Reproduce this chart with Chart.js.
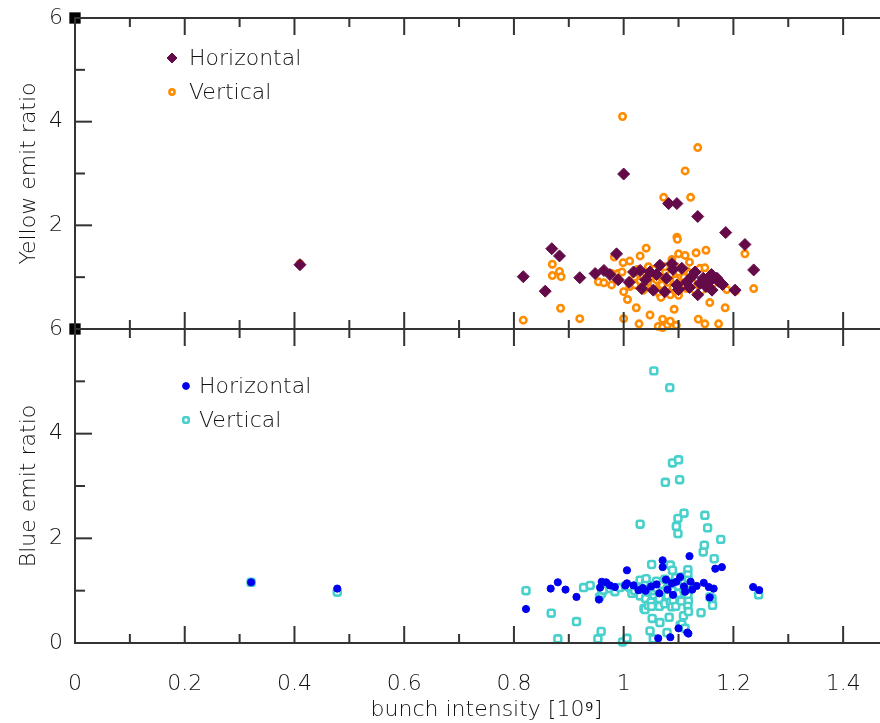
<!DOCTYPE html>
<html>
<head>
<meta charset="utf-8">
<title>Emittance ratio vs bunch intensity</title>
<script src="https://cdn.jsdelivr.net/npm/chart.js@4.4.0/dist/chart.umd.min.js"></script>
<style>
  html, body { margin: 0; padding: 0; background: #fff; width: 880px; height: 723px; overflow: hidden; }
  .panel { position: absolute; left: 0; top: 0; }
</style>
</head>
<body>
<canvas id="bluePanel" class="panel" width="920" height="723"></canvas>
<canvas id="yellowPanel" class="panel" width="920" height="723"></canvas>
<script>
'use strict';

// ── Data: [bunch intensity (1e9), emittance ratio] ──────────────────────
const yellowHorizontal = [
  [0.41, 1.24], [0.817, 1.01], [0.857, 0.73], [0.869, 1.55], [0.883, 1.41],
  [0.92, 0.99], [0.948, 1.07], [0.964, 1.13], [0.975, 1.05], [0.987, 1.45],
  [0.99, 0.95], [1.0, 2.99], [1.01, 0.9], [1.018, 1.10], [1.03, 1.13],
  [1.033, 0.78], [1.04, 0.95], [1.048, 1.10], [1.054, 0.75], [1.06, 1.05],
  [1.066, 1.23], [1.075, 0.72], [1.078, 0.98], [1.082, 2.42], [1.088, 1.26],
  [1.09, 1.15], [1.097, 2.42], [1.097, 0.85], [1.10, 0.76], [1.106, 1.17],
  [1.115, 0.91], [1.12, 0.80], [1.125, 1.02], [1.13, 1.10], [1.135, 2.17],
  [1.135, 0.66], [1.139, 0.88], [1.145, 0.98], [1.15, 0.82], [1.155, 0.90],
  [1.16, 1.05], [1.161, 0.75], [1.17, 0.98], [1.173, 0.92], [1.18, 0.86],
  [1.186, 1.86], [1.203, 0.75], [1.221, 1.63], [1.237, 1.14]
];

const yellowVertical = [
  [0.41, 1.26], [0.817, 0.17], [0.87, 1.25], [0.870, 1.03], [0.883, 1.11],
  [0.885, 0.40], [0.886, 1.01], [0.92, 0.20], [0.954, 0.91], [0.964, 0.89],
  [0.978, 0.85], [0.978, 1.07], [0.983, 1.39], [0.99, 1.07], [0.997, 1.10],
  [0.998, 4.10], [0.999, 1.28], [1.0, 0.20], [1.0, 0.72], [1.007, 0.57],
  [1.011, 1.31], [1.011, 0.82], [1.02, 1.0], [1.021, 0.85], [1.023, 0.41],
  [1.025, 1.15], [1.028, 0.10], [1.03, 1.41], [1.03, 0.93], [1.035, 1.0],
  [1.036, 0.75], [1.04, 1.1], [1.04, 0.8], [1.041, 1.56], [1.045, 0.9],
  [1.045, 1.2], [1.048, 0.27], [1.05, 1.05], [1.05, 0.8], [1.055, 1.15],
  [1.055, 0.88], [1.06, 0.95], [1.06, 0.75], [1.063, 0.05], [1.065, 1.1],
  [1.065, 0.68], [1.068, 0.61], [1.07, 0.85], [1.07, 1.0], [1.071, 0.19],
  [1.071, 0.03], [1.073, 2.54], [1.075, 1.2], [1.075, 0.98], [1.08, 0.9],
  [1.08, 0.7], [1.08, 0.08], [1.085, 1.05], [1.085, 0.66], [1.085, 0.15],
  [1.088, 1.34], [1.09, 0.8], [1.09, 1.15], [1.092, 0.38], [1.095, 0.95],
  [1.095, 1.2], [1.096, 0.07], [1.097, 1.77], [1.098, 1.73], [1.10, 1.45],
  [1.10, 1.1], [1.10, 0.72], [1.10, 0.65], [1.105, 0.88], [1.11, 1.0],
  [1.112, 3.05], [1.112, 1.42], [1.115, 0.78], [1.115, 1.12], [1.12, 1.29],
  [1.12, 1.08], [1.122, 2.54], [1.125, 0.9], [1.13, 0.75], [1.132, 1.47],
  [1.135, 3.50], [1.136, 0.19], [1.139, 1.17], [1.142, 0.75], [1.148, 1.18],
  [1.148, 0.10], [1.15, 1.52], [1.156, 0.78], [1.157, 0.51], [1.163, 0.88],
  [1.173, 0.10], [1.185, 0.41], [1.188, 0.76], [1.204, 0.73], [1.221, 1.45],
  [1.237, 0.78]
];

const blueHorizontal = [
  [0.321, 1.16], [0.478, 1.04], [0.822, 0.65], [0.867, 1.04], [0.880, 1.16],
  [0.894, 1.02], [0.914, 0.88], [0.955, 0.83], [0.957, 1.06], [0.960, 1.17],
  [0.968, 1.16], [0.975, 1.10], [0.984, 1.07], [1.003, 1.10], [1.006, 1.39],
  [1.006, 1.14], [1.018, 1.10], [1.027, 1.01], [1.035, 1.05], [1.04, 1.0],
  [1.05, 1.08], [1.06, 1.12], [1.063, 0.09], [1.065, 0.95], [1.071, 1.58],
  [1.071, 1.45], [1.077, 1.21], [1.08, 1.02], [1.085, 0.11], [1.088, 1.14],
  [1.09, 0.92], [1.096, 1.17], [1.100, 0.28], [1.103, 1.26], [1.11, 1.08],
  [1.112, 0.98], [1.116, 0.20], [1.118, 0.18], [1.120, 1.66], [1.122, 1.17],
  [1.125, 1.02], [1.133, 1.09], [1.146, 1.15], [1.155, 1.07], [1.157, 0.87],
  [1.164, 1.04], [1.167, 1.42], [1.179, 1.45], [1.236, 1.07], [1.247, 1.01]
];

const blueVertical = [
  [0.321, 1.16], [0.478, 0.97], [0.822, 1.00], [0.868, 0.57], [0.880, 0.08],
  [0.914, 0.41], [0.927, 1.06], [0.939, 1.10], [0.953, 0.08], [0.956, 0.88],
  [0.959, 0.22], [0.960, 0.95], [0.963, 1.01], [0.975, 1.04], [0.984, 0.98],
  [0.993, 1.06], [0.998, 0.02], [1.003, 1.09], [1.006, 0.09], [1.012, 1.05],
  [1.015, 0.95], [1.02, 1.0], [1.025, 1.1], [1.03, 0.9], [1.03, 1.2],
  [1.030, 2.27], [1.035, 1.05], [1.037, 0.66], [1.039, 0.64], [1.04, 1.15],
  [1.04, 0.85], [1.041, 1.23], [1.045, 0.98], [1.045, 0.72], [1.048, 0.23],
  [1.05, 1.1], [1.05, 0.78], [1.051, 1.50], [1.051, 0.70], [1.052, 0.47],
  [1.054, 0.08], [1.055, 5.20], [1.055, 0.92], [1.055, 1.0], [1.06, 1.05],
  [1.06, 1.18], [1.065, 0.85], [1.065, 0.7], [1.066, 0.39], [1.07, 0.98],
  [1.07, 1.12], [1.075, 0.75], [1.075, 1.22], [1.076, 3.07], [1.079, 0.20],
  [1.08, 0.9], [1.08, 1.05], [1.083, 0.49], [1.084, 4.88], [1.085, 1.15],
  [1.085, 0.78], [1.085, 1.49], [1.088, 0.69], [1.089, 3.44], [1.089, 1.39],
  [1.09, 0.82], [1.09, 1.0], [1.095, 0.7], [1.095, 1.25], [1.096, 2.23],
  [1.099, 2.38], [1.099, 2.09], [1.1, 0.92], [1.1, 1.08], [1.1, 0.95],
  [1.100, 3.50], [1.102, 3.12], [1.103, 0.34], [1.105, 0.8], [1.106, 1.26],
  [1.106, 0.36], [1.109, 0.52], [1.11, 1.0], [1.11, 1.15], [1.110, 2.48],
  [1.112, 0.28], [1.117, 1.40], [1.117, 1.30], [1.118, 1.20], [1.117, 1.10],
  [1.118, 1.00], [1.117, 0.90], [1.118, 0.80], [1.117, 0.70], [1.118, 0.60],
  [1.141, 0.58], [1.145, 1.74], [1.147, 1.87], [1.148, 2.44], [1.153, 2.20],
  [1.157, 0.88], [1.161, 0.85], [1.162, 0.72], [1.165, 1.61], [1.177, 1.98],
  [1.246, 0.92]
];

// corner marker at the top of each panel's ratio axis
const cornerMark = [[0, 6]];

// ── Axes ────────────────────────────────────────────────────────────────
const xMajor = [0, 0.2, 0.4, 0.6, 0.8, 1.0, 1.2, 1.4];
const xMinor = [0.1, 0.3, 0.5, 0.7, 0.9, 1.1, 1.3];
const xLabels = ['0', '0.2', '0.4', '0.6', '0.8', '1', '1.2', '1.4'];
const yMajor = [0, 2, 4, 6];
const yMinor = [1, 3, 5];
const yLabelsTop = ['', '2', '4', '6'];
const yLabelsBottom = ['0', '2', '4', '6'];

const INK = '#111';
const FONT = { family: "'DejaVu Sans', 'Liberation Sans', sans-serif", size: 22, weight: '200' };

const toPts = arr => arr.map(([x, y]) => ({ x, y }));

// Box around the plot plus inward major/minor ticks on all four sides
function drawFrame(chart, opts) {
  const ctx = chart.ctx, a = chart.chartArea;
  const sx = chart.scales.x, sy = chart.scales.y;
  ctx.save();
  ctx.fillStyle = opts.col;
  ctx.fillRect(a.left - 1, a.top - 1, a.right - a.left + 2, 2);
  ctx.fillRect(a.left - 1, a.bottom - 1, a.right - a.left + 2, 2);
  ctx.fillRect(a.left - 1, a.top - 1, 2, a.bottom - a.top + 2);
  ctx.fillRect(a.right - 1, a.top - 1, 2, a.bottom - a.top + 2);
  const xTick = (v, len) => {
    const px = sx.getPixelForValue(v);
    ctx.fillRect(px - 1, a.bottom - len, 2, len);
    ctx.fillRect(px - 1, a.top, 2, len);
  };
  const yTick = (v, len) => {
    const py = sy.getPixelForValue(v);
    ctx.fillRect(a.left, py - 1, len, 2);
    ctx.fillRect(a.right - len, py - 1, len, 2);
  };
  xMajor.forEach(v => xTick(v, 17));
  xMinor.forEach(v => xTick(v, 9));
  yMajor.forEach(v => yTick(v, 17));
  yMinor.forEach(v => yTick(v, 10));
  ctx.restore();
}

// Small in-plot legend: marker + label per dataset
function drawLegend(chart, opts) {
  const ctx = chart.ctx;
  ctx.save();
  ctx.font = `${FONT.weight} ${FONT.size}px ${FONT.family}`;
  ctx.textBaseline = 'middle';
  let row = 0;
  chart.data.datasets.forEach(ds => {
    if (!ds.label) return;
    const y = opts.y + row * opts.dy;
    ctx.save();
    ctx.fillStyle = ds.backgroundColor;
    ctx.strokeStyle = ds.borderColor;
    ctx.lineWidth = ds.borderWidth;
    Chart.helpers.drawPoint(ctx, {
      pointStyle: ds.pointStyle, radius: ds.legendRadius, rotation: 0, borderWidth: ds.borderWidth
    }, opts.x, y);
    ctx.restore();
    ctx.fillStyle = INK;
    ctx.fillText(ds.label, opts.textX, y + 1);
    row++;
  });
  ctx.restore();
}

const panelDecor = {
  id: 'panelDecor',
  afterDraw(chart, args, opts) {
    drawFrame(chart, opts);
    drawLegend(chart, opts);
  }
};

function panelOptions(cfg) {
  return {
    responsive: false,
    animation: false,
    clip: false,
    layout: { padding: cfg.padding },
    plugins: {
      legend: { display: false },
      tooltip: { enabled: false },
      panelDecor: Object.assign({ col: '#333' }, cfg.legend)
    },
    scales: {
      x: {
        type: 'linear', min: 0, max: 1.5,
        display: cfg.showX,
        border: { display: false },
        grid: { display: false },
        afterBuildTicks: s => { s.ticks = xMajor.map(v => ({ value: v })); },
        afterFit: s => {
          s.height = cfg.showX ? 80 : 0;
          s.paddingLeft = 0; s.paddingRight = 0;
        },
        ticks: {
          autoSkip: false, maxRotation: 0, padding: 20,
          color: INK, font: FONT,
          callback: (v, i) => xLabels[i]
        },
        title: {
          display: true, text: 'bunch intensity [10⁹]',
          color: INK, font: FONT, padding: { top: 0, bottom: 0 }
        }
      },
      y: {
        type: 'linear', min: 0, max: 6,
        border: { display: false },
        grid: { display: false },
        afterBuildTicks: s => { s.ticks = yMajor.map(v => ({ value: v })); },
        afterFit: s => {
          s.width = 75;
          s.paddingTop = 0; s.paddingBottom = 0;
        },
        ticks: {
          autoSkip: false, padding: 4,
          color: INK, font: FONT,
          callback: (v, i) => cfg.yLabels[i]
        },
        title: {
          display: true, text: cfg.yTitle,
          color: INK, font: FONT, padding: { top: 16, bottom: 0 }
        }
      }
    }
  };
}

const cornerStyle = {
  label: '', pointStyle: 'rect', radius: 8,
  backgroundColor: '#000', borderColor: '#000', borderWidth: 0
};

new Chart(document.getElementById('bluePanel'), {
  type: 'scatter',
  data: {
    datasets: [
      {
        label: 'Horizontal', data: toPts(blueHorizontal),
        pointStyle: 'circle', radius: 3.6, legendRadius: 3.4,
        backgroundColor: '#0000ee', borderColor: '#0000ee', borderWidth: 1
      },
      {
        label: 'Vertical', data: toPts(blueVertical),
        pointStyle: 'rectRounded', radius: 4, legendRadius: 3.2,
        backgroundColor: '#ffffff', borderColor: '#48d1cc', borderWidth: 2.6
      },
      Object.assign({ data: toPts(cornerMark) }, cornerStyle)
    ]
  },
  options: panelOptions({
    padding: { top: 329, right: 22, bottom: 0, left: 0 },
    showX: true,
    yLabels: yLabelsBottom,
    yTitle: 'Blue emit ratio',
    legend: { x: 186, y: 386, dy: 34, textX: 199 }
  }),
  plugins: [panelDecor]
});

new Chart(document.getElementById('yellowPanel'), {
  type: 'scatter',
  data: {
    datasets: [
      {
        label: 'Horizontal', data: toPts(yellowHorizontal),
        pointStyle: 'rectRot', radius: 6, legendRadius: 5,
        backgroundColor: '#650a48', borderColor: '#650a48', borderWidth: 1
      },
      {
        label: 'Vertical', data: toPts(yellowVertical),
        pointStyle: 'circle', radius: 3.2, legendRadius: 2.6,
        backgroundColor: '#ffffff', borderColor: '#ff8c00', borderWidth: 2.6
      },
      Object.assign({ data: toPts(cornerMark) }, cornerStyle)
    ]
  },
  options: panelOptions({
    padding: { top: 18, right: 22, bottom: 394, left: 0 },
    showX: false,
    yLabels: yLabelsTop,
    yTitle: 'Yellow emit ratio',
    legend: { x: 172, y: 58, dy: 34, textX: 189 }
  }),
  plugins: [panelDecor]
});
</script>
</body>
</html>
